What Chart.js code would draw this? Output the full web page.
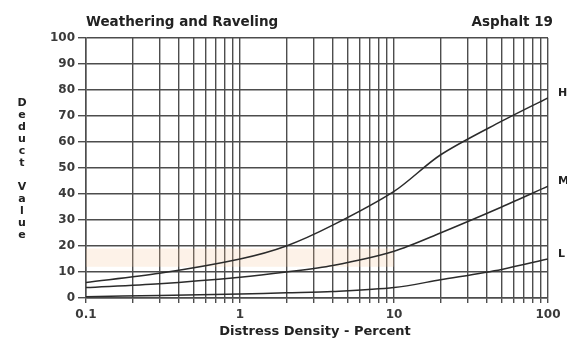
<!DOCTYPE html>
<html>
<head>
<meta charset="utf-8">
<script src="https://cdn.jsdelivr.net/npm/chart.js@4/dist/chart.umd.min.js"></script>
<style>
  html, body { margin: 0; padding: 0; background: #fff; }
  #wrap { width: 567px; height: 343px; }
</style>
</head>
<body>
<div id="wrap"><canvas id="chart1"></canvas></div>
<script>
// CHART DATA
// -----------------------------
let density = [0.1, 0.3, 1, 2, 4, 10, 20, 50, 100];
let high = [6, 9.5, 15, 20, 28, 41, 55, 68, 77];
let medium = [4, 5.5, 8, 10, 12.5, 18, 25, 35, 43];
let low = [0.5, 1, 1.5, 2, 2.5, 4, 7, 11, 15];
let severity = ['H', 'M', 'L'];

// highlighted band (deduct value range)
let bandX = [0.1, 10];
let bandTop = [19, 19];
let bandBottom = [12, 12];

// tick positions
let xTicks = [];
[0.1, 1, 10].forEach(d => {
  for (let i = 1; i < 10; i++) xTicks.push(+(d * i).toFixed(2));
});
xTicks.push(100);
let xLabels = [0.1, 1, 10, 100];

const FONT = '"DejaVu Sans", sans-serif';
const INK = '#3a3a3a';
const GRID = '#4d4d4d';

function pts(xs, ys) {
  return xs.map((x, i) => ({ x: x, y: ys[i] }));
}

function curve(label, values) {
  return {
    label: label,
    data: pts(density, values),
    borderColor: '#2b2b2b',
    borderWidth: 1.5,
    pointRadius: 0,
    tension: 0.3,
    fill: false,
    order: 1,
  };
}

// text that isn't part of the axes
const labelsPlugin = {
  id: 'labels',
  afterDraw(chart) {
    const ctx = chart.ctx;
    const area = chart.chartArea;
    const y = chart.scales.y;
    ctx.save();
    ctx.fillStyle = '#222';
    ctx.font = 'bold 13.5px ' + FONT;
    ctx.textBaseline = 'middle';
    ctx.textAlign = 'left';
    ctx.fillText('Weathering and Raveling', area.left, 22);
    ctx.textAlign = 'right';
    ctx.fillText('Asphalt 19', area.right + 5, 22);

    // severity labels at curve ends
    const ends = [high, medium, low];
    ctx.textAlign = 'left';
    ctx.font = 'bold 11px ' + FONT;
    severity.forEach((s, i) => {
      const v = ends[i][ends[i].length - 1];
      ctx.fillText(s, area.right + 10, y.getPixelForValue(v) - 5);
    });

    // stacked y title
    ctx.textAlign = 'center';
    ctx.font = 'bold 11px ' + FONT;
    const yt = 'Deduct Value';
    for (let i = 0; i < yt.length; i++) {
      ctx.fillText(yt[i], 22, 103 + i * 12);
    }

    // x title
    ctx.font = 'bold 13px ' + FONT;
    ctx.fillText('Distress Density - Percent', 315, 332);
    ctx.restore();
  },
};

let chart1Data = {
  type: 'line',
  data: {
    datasets: [
      {
        label: 'band top',
        data: pts(bandX, bandTop),
        borderWidth: 0,
        pointRadius: 0,
        fill: false,
        order: 3,
      },
      {
        label: 'band bottom',
        data: pts(bandX, bandBottom),
        borderWidth: 0,
        pointRadius: 0,
        fill: '-1',
        backgroundColor: 'rgba(245, 195, 150, 0.22)',
        order: 2,
      },
      curve('H', high),
      curve('M', medium),
      curve('L', low),
    ],
  },
  options: {
    responsive: false,
    animation: false,
    layout: { padding: { left: 0, right: 19, top: 38, bottom: 0 } },
    plugins: {
      legend: { display: false },
      tooltip: { enabled: false },
    },
    scales: {
      x: {
        type: 'logarithmic',
        min: 0.1,
        max: 100,
        afterBuildTicks(scale) {
          scale.ticks = xTicks.map(v => ({ value: v }));
        },
        afterFit(scale) {
          scale.height = 45;
        },
        border: { color: GRID, width: 1.5 },
        grid: { color: GRID, lineWidth: 1.4, tickLength: 5, tickColor: GRID },
        ticks: {
          autoSkip: false,
          maxRotation: 0,
          padding: 5,
          color: INK,
          font: { family: FONT, size: 12, weight: 'bold' },
          callback: v => (xLabels.includes(v) ? String(v) : ''),
        },
      },
      y: {
        min: 0,
        max: 100,
        afterFit(scale) {
          scale.width = 86;
        },
        border: { color: GRID, width: 1.5 },
        grid: { color: GRID, lineWidth: 1.4, tickLength: 8, tickColor: GRID },
        ticks: {
          stepSize: 10,
          padding: 3,
          color: INK,
          font: { family: FONT, size: 12, weight: 'bold' },
        },
      },
    },
  },
  plugins: [labelsPlugin],
};

const canvas = document.getElementById('chart1');
canvas.width = 567;
canvas.height = 343;
new Chart(canvas, chart1Data);
</script>
</body>
</html>
